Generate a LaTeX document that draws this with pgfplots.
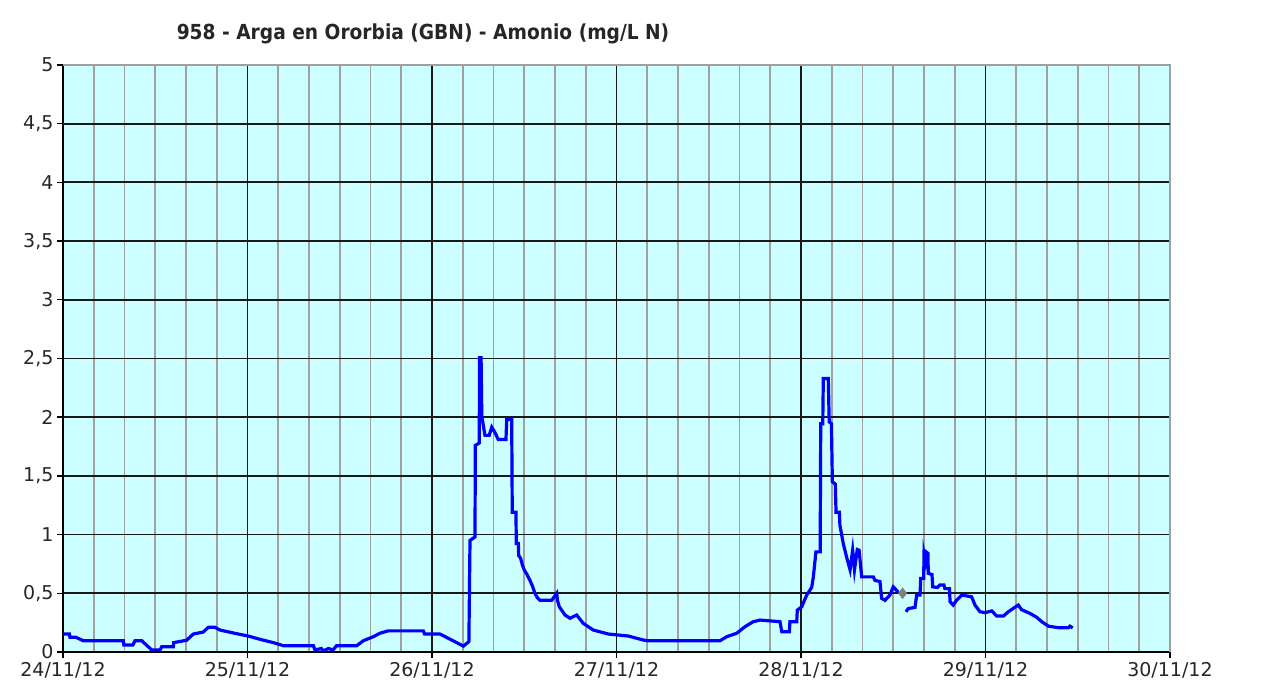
\documentclass[border=0pt]{standalone}
\usepackage{fontspec}
\setmainfont{DejaVu Sans}
\newfontfamily\titlefont{DejaVu Sans Condensed}
\usepackage{pgfplots}
\pgfplotsset{compat=1.18}
\definecolor{plotbg}{HTML}{CCFFFF}
\definecolor{gridgrey}{HTML}{A0A0A0}
\definecolor{serie}{HTML}{0000FF}
\begin{document}
\begin{tikzpicture}
\path[use as bounding box] (-63pt,-41pt) rectangle (1202pt,652pt);
\begin{axis}[
  scale only axis,
  width=1107pt, height=587pt,
  at={(0pt,0pt)}, anchor=south west,
  xmin=0, xmax=6, ymin=0, ymax=5,
  axis background/.style={fill=plotbg},
  axis x line*=bottom, axis y line*=left,
  axis line style={-, black, line width=1.8pt},
  xtick={0,1,2,3,4,5,6},
  xticklabels={24/11/12,25/11/12,26/11/12,27/11/12,28/11/12,29/11/12,30/11/12},
  minor xtick={0.16667,0.33333,0.5,0.66667,0.83333,1.16667,1.33333,1.5,1.66667,1.83333,2.16667,2.33333,2.5,2.66667,2.83333,3.16667,3.33333,3.5,3.66667,3.83333,4.16667,4.33333,4.5,4.66667,4.83333,5.16667,5.33333,5.5,5.66667,5.83333,6},
  xminorgrids=true, xmajorgrids=false,
  minor grid style={gridgrey, line width=1.8pt},
  extra x ticks={1,2,3,4,5},
  extra x tick labels={},
  extra x tick style={xmajorgrids=true, major grid style={black!90, line width=1.8pt}, major tick length=0pt},
  ytick={0,0.5,1,1.5,2,2.5,3,3.5,4,4.5,5},
  yticklabels={0,{0,5},1,{1,5},2,{2,5},3,{3,5},4,{4,5},5},
  ymajorgrids=true,
  major grid style={black!90, line width=1.8pt},
  tick align=outside,
  major tick length=6pt, minor tick length=0pt,
  tick style={black, line width=1.4pt},
  ticklabel style={font=\fontsize{19}{22}\selectfont, text=black!85},
  xticklabel style={yshift=-1pt},
  clip=false,
]
% grey plot area border (top and right)
\draw[gridgrey, line width=1.8pt] (axis cs:0,5) -- (axis cs:6,5) -- (axis cs:6,0);
\draw[black!90, line width=1.8pt] (axis cs:0,4.5) -- (axis cs:6,4.5);
\addplot[serie, line width=3.2pt, line join=miter, mark=none] coordinates {
(0.0,0.153) (0.035,0.153) (0.038,0.125) (0.07,0.125) (0.11,0.096) (0.327,0.096)
(0.33,0.06) (0.379,0.06) (0.39,0.096) (0.427,0.096) (0.481,0.017) (0.526,0.017)
(0.535,0.045) (0.598,0.045) (0.60,0.08) (0.67,0.10) (0.706,0.153) (0.76,0.17)
(0.788,0.21) (0.824,0.21) (0.851,0.187) (0.932,0.159) (1.004,0.136) (1.068,0.108)
(1.140,0.08) (1.194,0.054) (1.357,0.054) (1.366,0.017) (1.40,0.03) (1.41,0.01)
(1.44,0.03) (1.463,0.017) (1.483,0.054) (1.592,0.054) (1.628,0.096) (1.682,0.13)
(1.718,0.16) (1.763,0.18) (1.953,0.18) (1.96,0.153) (2.043,0.153) (2.06,0.14)
(2.170,0.05) (2.20,0.088) (2.206,0.95) (2.233,0.98) (2.235,1.76) (2.256,1.78)
(2.258,2.52) (2.262,2.0) (2.266,2.52) (2.270,2.0) (2.273,1.98) (2.287,1.845)
(2.31,1.845) (2.324,1.915) (2.341,1.87) (2.359,1.81) (2.401,1.81) (2.405,1.98)
(2.432,1.98) (2.435,1.19) (2.455,1.19) (2.457,0.925) (2.468,0.925) (2.470,0.82)
(2.480,0.80) (2.490,0.74) (2.500,0.70) (2.515,0.66) (2.531,0.61) (2.545,0.56)
(2.558,0.50) (2.572,0.46) (2.585,0.44) (2.649,0.44) (2.676,0.50) (2.680,0.44)
(2.690,0.385) (2.721,0.315) (2.748,0.287) (2.784,0.315) (2.820,0.244) (2.874,0.187)
(2.956,0.153) (3.064,0.136) (3.145,0.102) (3.17,0.096) (3.561,0.096) (3.597,0.13)
(3.652,0.16) (3.696,0.215) (3.741,0.258) (3.778,0.272) (3.886,0.258) (3.896,0.173)
(3.937,0.173) (3.940,0.258) (3.977,0.258) (3.980,0.357) (4.004,0.385) (4.031,0.485)
(4.058,0.55) (4.067,0.64) (4.081,0.853) (4.104,0.853) (4.107,1.945) (4.118,1.945)
(4.121,2.33) (4.148,2.33) (4.153,1.96) (4.165,1.945) (4.170,1.45) (4.186,1.43)
(4.190,1.19) (4.208,1.19) (4.211,1.08) (4.229,0.925) (4.247,0.81) (4.266,0.70)
(4.280,0.867) (4.290,0.70) (4.305,0.873) (4.315,0.867) (4.329,0.64) (4.392,0.64)
(4.401,0.61) (4.428,0.60) (4.437,0.457) (4.455,0.44) (4.482,0.485) (4.500,0.555)
(4.527,0.51)
};
\addplot[serie, line width=3.2pt, line join=miter, mark=none] coordinates {
(4.569,0.343) (4.582,0.37) (4.618,0.38) (4.627,0.485) (4.645,0.485) (4.649,0.627)
(4.665,0.627) (4.667,0.84) (4.675,0.78) (4.680,0.85) (4.688,0.84) (4.690,0.67)
(4.710,0.66) (4.714,0.555) (4.740,0.55) (4.753,0.57) (4.775,0.57) (4.780,0.54)
(4.805,0.54) (4.808,0.428) (4.825,0.40) (4.843,0.44) (4.871,0.485) (4.925,0.47)
(4.943,0.40) (4.970,0.343) (4.997,0.335) (5.034,0.35) (5.061,0.306) (5.097,0.306)
(5.124,0.343) (5.151,0.372) (5.178,0.40) (5.196,0.36) (5.241,0.329) (5.278,0.295)
(5.305,0.258) (5.341,0.22) (5.395,0.207) (5.449,0.207) (5.458,0.22) (5.473,0.205)
};
\addplot[only marks, mark=diamond*, mark size=5.5pt, color=gray, mark options={fill=gray}] coordinates {(4.551,0.50)};
\end{axis}
\node[anchor=base, font=\titlefont\bfseries\fontsize{20.7}{24}\selectfont, text=black!85] at (360pt,612pt) {958 - Arga en Ororbia (GBN) - Amonio (mg/L N)};
\end{tikzpicture}
\end{document}
